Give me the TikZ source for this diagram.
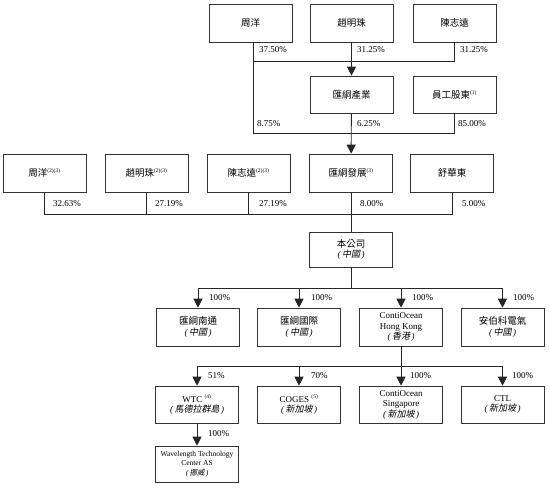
\documentclass[tikz,border=0pt]{standalone}
\usepackage{fontspec}
\setmainfont{Liberation Serif}
\newfontfamily\cjk{Noto Sans CJK TC}
\newfontfamily\cjkit[FakeSlant=0.2]{Noto Sans CJK TC}
\usetikzlibrary{arrows.meta}
\newcommand\fnmark[1]{\textsuperscript{\fontsize{5.5}{6}\selectfont #1}}
\newcommand\zh[1]{{\fontsize{9.5}{10.5}\selectfont\cjk #1}}
\newcommand\loc[1]{{\itshape(\,}{\cjkit #1}{\itshape\,)}}
\begin{document}
\begin{tikzpicture}[x=1pt,y=-1pt,
  box/.style={draw=black!80, line width=0.6pt, minimum width=83pt, minimum height=38pt,
    inner sep=0pt, align=center, font=\fontsize{9}{10.5}\selectfont},
  ln/.style={draw=black!85, line width=0.9pt},
  arr/.style={ln, -{Triangle[width=9pt,length=9pt]}},
  pct/.style={anchor=west, inner sep=0pt, font=\fontsize{9}{10}\selectfont}]
\useasboundingbox (0,0) rectangle (550,488);
% row 1
\node[box] (a1) at (250.5,23) {\zh{周洋}};
\node[box] (a2) at (351.5,23) {\zh{趙明珠}};
\node[box] (a3) at (454.5,23) {\zh{陳志遠}};
% row 2
\node[box, minimum height=37pt] (b1) at (351.5,94.5) {\zh{匯絧產業}};
\node[box, minimum height=37pt] (b2) at (454.5,94.5) {\zh{員工股東}\fnmark{(1)}};
% row 3
\node[box] (c1) at (44.5,173) {\zh{周洋}\fnmark{(2)(3)}};
\node[box] (c2) at (146.5,173) {\zh{趙明珠}\fnmark{(2)(3)}};
\node[box] (c3) at (248.5,173) {\zh{陳志遠}\fnmark{(2)(3)}};
\node[box] (c4) at (351,173) {\zh{匯絧發展}\fnmark{(3)}};
\node[box] (c5) at (452,173) {\zh{舒華東}};
% company
\node[box, minimum height=35pt] (d) at (351,249.5) {\zh{本公司}\\\loc{中國}};
% row 5
\node[box] (e1) at (198,327) {\zh{匯絧南通}\\\loc{中國}};
\node[box] (e2) at (299,327) {\zh{匯絧國際}\\\loc{中國}};
\node[box] (e3) at (401,327) {ContiOcean\\Hong Kong\\\loc{香港}};
\node[box] (e4) at (502.5,327) {\zh{安伯科電氣}\\\loc{中國}};
% row 6
\node[box, minimum height=37pt] (f1) at (197,404.5) {WTC \fnmark{(4)}\\\loc{馬德拉群島}};
\node[box, minimum height=37pt] (f2) at (299,404.5) {COGES \fnmark{(5)}\\\loc{新加坡}};
\node[box, minimum height=37pt] (f3) at (401,404.5) {ContiOcean\\Singapore\\\loc{新加坡}};
\node[box, minimum height=37pt] (f4) at (502.5,404.5) {CTL\\\loc{新加坡}};
% row 7
\node[box, minimum height=36pt, font=\fontsize{7.5}{9.5}\selectfont] (g) at (197,464) {Wavelength Technology\\Center AS\\\loc{挪威}};
% helper levels
\coordinate (h1) at (0,61);
\coordinate (h2) at (0,133);
\coordinate (h3) at (0,214);
\coordinate (h4) at (0,288);
\coordinate (h5) at (0,366);
% top connectors
\draw[ln] ([xshift=3pt]a1.south |- h1) -| (a3.south);
\draw[ln] ([xshift=3pt]a1.south) |- (b2.south |- h2) -- (b2.south);
\draw[arr] (a2) -- (b1);
\draw[arr] (b1) -- (c4);
% row 3 connectors
\draw[ln] (c1.south) |- (c5.south |- h3) -- (c5.south);
\draw[ln] (c2.south) -- (c2.south |- h3);
\draw[ln] (c3.south) -- (c3.south |- h3);
\draw[ln] (c4) -- (d);
% company to subsidiaries
\draw[ln] (d.south) -- (d.south |- h4);
\draw[ln] (e1.north |- h4) -- (e4.north |- h4);
\foreach \n in {e1,e2,e3,e4} \draw[arr] (\n.north |- h4) -- (\n.north);
% HK to subsidiaries
\draw[ln] (e3.south) -- (e3.south |- h5);
\draw[ln] (f1.north |- h5) -- (f4.north |- h5);
\foreach \n in {f1,f2,f3,f4} \draw[arr] (\n.north |- h5) -- (\n.north);
\draw[arr] (f1) -- (g);
% labels
\node[pct] (l1) at (259,50) {37.50\%};
\node[pct] (l2) at (357,50) {31.25\%};
\node[pct] (l3) at (460,50) {31.25\%};
\node[pct] (l4) at (257,124) {8.75\%};
\node[pct] (l5) at (357,124) {6.25\%};
\node[pct] (l6) at (458,124) {85.00\%};
\node[pct] (l7) at (53,204) {32.63\%};
\node[pct] (l8) at (155,204) {27.19\%};
\node[pct] (l9) at (259,204) {27.19\%};
\node[pct] (l10) at (360,204) {8.00\%};
\node[pct] (l11) at (462,204) {5.00\%};
\node[pct] (l12) at (209,298) {100\%};
\node[pct] (l13) at (311,298) {100\%};
\node[pct] (l14) at (412,298) {100\%};
\node[pct] (l15) at (513,298) {100\%};
\node[pct] (l16) at (208,376) {51\%};
\node[pct] (l17) at (311,376) {70\%};
\node[pct] (l18) at (410,376) {100\%};
\node[pct] (l19) at (512,376) {100\%};
\node[pct] (l20) at (208,434) {100\%};
\end{tikzpicture}
\end{document}
